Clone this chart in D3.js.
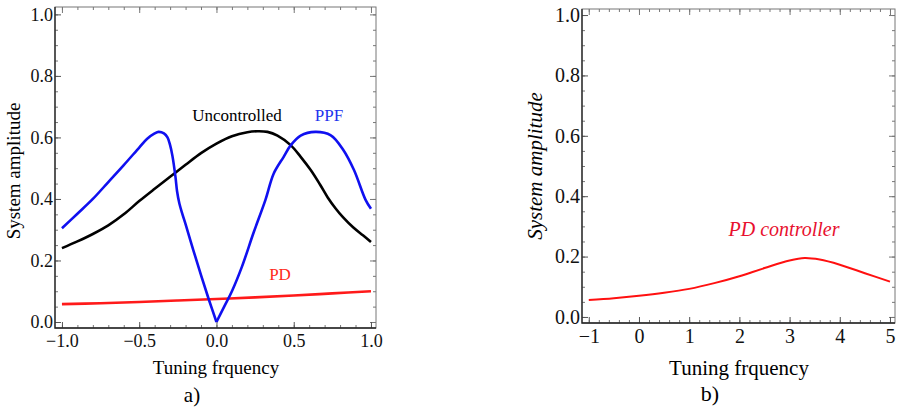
<!DOCTYPE html>
<html>
<head>
<meta charset="utf-8">
<script src="https://cdn.jsdelivr.net/npm/d3@7"></script>
<style>
  body { margin: 0; background: #fff; }
  svg { display: block; }
</style>
</head>
<body>
<svg id="chart" width="897" height="411"></svg>
<script>
const FONT = '"Liberation Serif", "DejaVu Serif", serif';

// ---- data ----
// panel a) tuning frequency from -1 to 1
const uncX = [-1.0, -0.9, -0.8, -0.7, -0.6, -0.5, -0.4, -0.3, -0.2, -0.1, 0.0, 0.1, 0.2, 0.265, 0.33, 0.395, 0.48, 0.545, 0.61, 0.67, 0.72, 0.77, 0.82, 0.886, 0.95, 1.0];
const uncY = [0.240, 0.262, 0.286, 0.314, 0.350, 0.393, 0.433, 0.472, 0.511, 0.549, 0.580, 0.604, 0.617, 0.620, 0.618, 0.606, 0.575, 0.537, 0.494, 0.447, 0.405, 0.370, 0.340, 0.307, 0.281, 0.260];

// PPF is drawn as two branches meeting in the notch at 0
const ppfLeftX = [-1.0, -0.9, -0.8, -0.7, -0.6, -0.5, -0.45, -0.4, -0.375, -0.34, -0.317, -0.3, -0.285, -0.265, -0.255, -0.24, -0.22, -0.2, -0.15, -0.1, -0.05, 0.0];
const ppfLeftY = [0.305, 0.352, 0.400, 0.455, 0.510, 0.567, 0.595, 0.613, 0.618, 0.613, 0.600, 0.575, 0.540, 0.470, 0.425, 0.385, 0.350, 0.318, 0.234, 0.152, 0.074, 0.0];
const ppfRightX = [0.0, 0.05, 0.1, 0.165, 0.24, 0.317, 0.37, 0.435, 0.48, 0.545, 0.64, 0.74, 0.82, 0.89, 0.965, 1.0];
const ppfRightY = [0.0, 0.050, 0.100, 0.180, 0.290, 0.397, 0.482, 0.537, 0.574, 0.606, 0.618, 0.607, 0.560, 0.494, 0.397, 0.368];

const pdX = [-1.0, -0.75, -0.5, -0.25, 0.0, 0.25, 0.5, 0.75, 1.0];
const pdY = [0.058, 0.061, 0.065, 0.070, 0.075, 0.080, 0.086, 0.093, 0.100];

// panel b) PD controller over a wider range
const pdWideX = [-1, -0.5, 0, 0.5, 1, 1.5, 2, 2.5, 3, 3.3, 3.6, 4, 4.5, 5];
const pdWideY = [0.056, 0.062, 0.070, 0.080, 0.093, 0.112, 0.135, 0.162, 0.187, 0.195, 0.190, 0.173, 0.145, 0.117];

// ticks
const aMajorX = [-1.0, -0.5, 0.0, 0.5, 1.0];
const aMinorX = d3.range(-10, 11).map(d => d / 10);
const bMajorX = [-1, 0, 1, 2, 3, 4, 5];
const bMinorX = d3.range(-5, 26).map(d => d / 5);
const majorY = [0.0, 0.2, 0.4, 0.6, 0.8, 1.0];
const minorY = d3.range(0, 21).map(d => d / 20);

const zip = (xs, ys) => xs.map((x, i) => ({ x: x, y: ys[i] }));

const svg = d3.select('#chart');

function drawPanel(cfg) {
  const x = d3.scaleLinear().domain(cfg.xDomain).range([cfg.left, cfg.right]);
  const y = d3.scaleLinear().domain(cfg.yDomain).range([cfg.bottom, cfg.top]);
  const g = svg.append('g');

  const yFmt = d3.format('.1f');
  const minus = s => s.replace('-', '\u2212');

  // minor ticks on all four sides
  const sides = [
    [d3.axisBottom(x), `translate(0,${cfg.bottom})`, cfg.minorX],
    [d3.axisTop(x), `translate(0,${cfg.top})`, cfg.minorX],
    [d3.axisLeft(y), `translate(${cfg.left},0)`, minorY],
    [d3.axisRight(y), `translate(${cfg.right},0)`, minorY]
  ];
  sides.forEach(s => {
    g.append('g').attr('transform', s[1])
      .call(s[0].tickValues(s[2]).tickSize(-3).tickFormat(''))
      .call(a => a.select('.domain').remove())
      .selectAll('line').attr('stroke', '#777');
  });
  // major ticks, top/right unlabeled
  g.append('g').attr('transform', `translate(0,${cfg.top})`)
    .call(d3.axisTop(x).tickValues(cfg.majorX).tickSize(-6).tickFormat(''))
    .call(a => a.select('.domain').remove())
    .selectAll('line').attr('stroke', '#777');
  g.append('g').attr('transform', `translate(${cfg.right},0)`)
    .call(d3.axisRight(y).tickValues(majorY).tickSize(-6).tickFormat(''))
    .call(a => a.select('.domain').remove())
    .selectAll('line').attr('stroke', '#777');

  const xAx = g.append('g').attr('transform', `translate(0,${cfg.bottom})`)
    .call(d3.axisBottom(x).tickValues(cfg.majorX).tickSize(-6).tickPadding(cfg.xPad)
      .tickFormat(d => minus(cfg.xFmt(d))))
    .call(a => a.select('.domain').remove());
  xAx.selectAll('line').attr('stroke', '#555');
  xAx.selectAll('text').attr('fill', '#111')
    .style('font-family', FONT).style('font-size', cfg.tickFont + 'px');

  const yAx = g.append('g').attr('transform', `translate(${cfg.left},0)`)
    .call(d3.axisLeft(y).tickValues(majorY).tickSize(-6).tickPadding(2).tickFormat(yFmt))
    .call(a => a.select('.domain').remove());
  yAx.selectAll('line').attr('stroke', '#555');
  yAx.selectAll('text').attr('fill', '#111')
    .style('font-family', FONT).style('font-size', cfg.tickFont + 'px');

  // frame
  g.append('rect')
    .attr('x', cfg.left).attr('y', cfg.top)
    .attr('width', cfg.right - cfg.left).attr('height', cfg.bottom - cfg.top)
    .attr('fill', 'none').attr('stroke', '#777').attr('stroke-width', 1);
  g.append('path')
    .attr('d', `M${cfg.left},${cfg.top}V${cfg.bottom}H${cfg.right}`)
    .attr('fill', 'none').attr('stroke', '#222').attr('stroke-width', 1.3);

  // curves
  const line = d3.line().x(d => x(d.x)).y(d => y(d.y)).curve(d3.curveCatmullRom.alpha(0.5));
  cfg.series.forEach(s => {
    g.append('path')
      .datum(zip(s.xs, s.ys))
      .attr('d', line)
      .attr('fill', 'none')
      .attr('stroke', s.color)
      .attr('stroke-width', s.width)
      .attr('stroke-linejoin', 'round')
      .attr('stroke-linecap', 'butt');
  });

  // axis titles
  g.append('text')
    .attr('x', cfg.xTitle[0]).attr('y', cfg.xTitle[1])
    .attr('text-anchor', 'middle')
    .style('font-family', FONT)
    .style('font-size', cfg.titleFont + 'px')
    .text('Tuning frquency');
  g.append('text')
    .attr('transform', `translate(${cfg.yTitle[0]},${cfg.yTitle[1]}) rotate(-90)`)
    .attr('text-anchor', 'middle')
    .style('font-family', FONT)
    .style('font-size', cfg.titleFont + 'px')
    .style('font-style', cfg.yItalic ? 'italic' : 'normal')
    .text('System amplitude');
  g.append('text')
    .attr('x', cfg.tag[0]).attr('y', cfg.tag[1])
    .attr('text-anchor', 'middle')
    .style('font-family', FONT)
    .style('font-size', cfg.tagFont + 'px')
    .text(cfg.tagText);

  cfg.labels.forEach(l => {
    g.append('text')
      .attr('x', l.x).attr('y', l.y)
      .attr('text-anchor', 'middle')
      .attr('fill', l.color)
      .style('font-family', FONT)
      .style('font-size', l.size + 'px')
      .style('font-style', l.italic ? 'italic' : 'normal')
      .text(l.text);
  });
}

drawPanel({
  left: 55, right: 376, top: 7, bottom: 328,
  xDomain: [-1.045, 1.0325], yDomain: [-0.0195, 1.024],
  majorX: aMajorX, minorX: aMinorX, xFmt: d3.format('.1f'), xPad: 6,
  tickFont: 18, titleFont: 19, tagFont: 21,
  xTitle: [216, 374], yTitle: [20, 171], yItalic: false,
  tag: [192, 402], tagText: 'a)',
  series: [
    { xs: uncX, ys: uncY, color: '#000000', width: 2.6 },
    { xs: pdX, ys: pdY, color: '#ff1a1a', width: 2.6 },
    { xs: ppfLeftX, ys: ppfLeftY, color: '#1010f0', width: 2.6 },
    { xs: ppfRightX, ys: ppfRightY, color: '#1010f0', width: 2.6 }
  ],
  labels: [
    { text: 'Uncontrolled', x: 237, y: 121, color: '#000', size: 17 },
    { text: 'PPF', x: 329, y: 121, color: '#2233ee', size: 17 },
    { text: 'PD', x: 280, y: 280, color: '#ff2a1a', size: 17 }
  ]
});

drawPanel({
  left: 582, right: 895, top: 9, bottom: 323,
  xDomain: [-1.135, 5.10], yDomain: [-0.02, 1.02],
  majorX: bMajorX, minorX: bMinorX, xFmt: d3.format('d'), xPad: 6,
  tickFont: 20, titleFont: 21, tagFont: 22,
  xTitle: [739, 375], yTitle: [542, 166], yItalic: true,
  tag: [710, 401], tagText: 'b)',
  series: [
    { xs: pdWideX, ys: pdWideY, color: '#ff1010', width: 2 }
  ],
  labels: [
    { text: 'PD controller', x: 784, y: 236, color: '#e8102e', size: 20, italic: true }
  ]
});
</script>
</body>
</html>
